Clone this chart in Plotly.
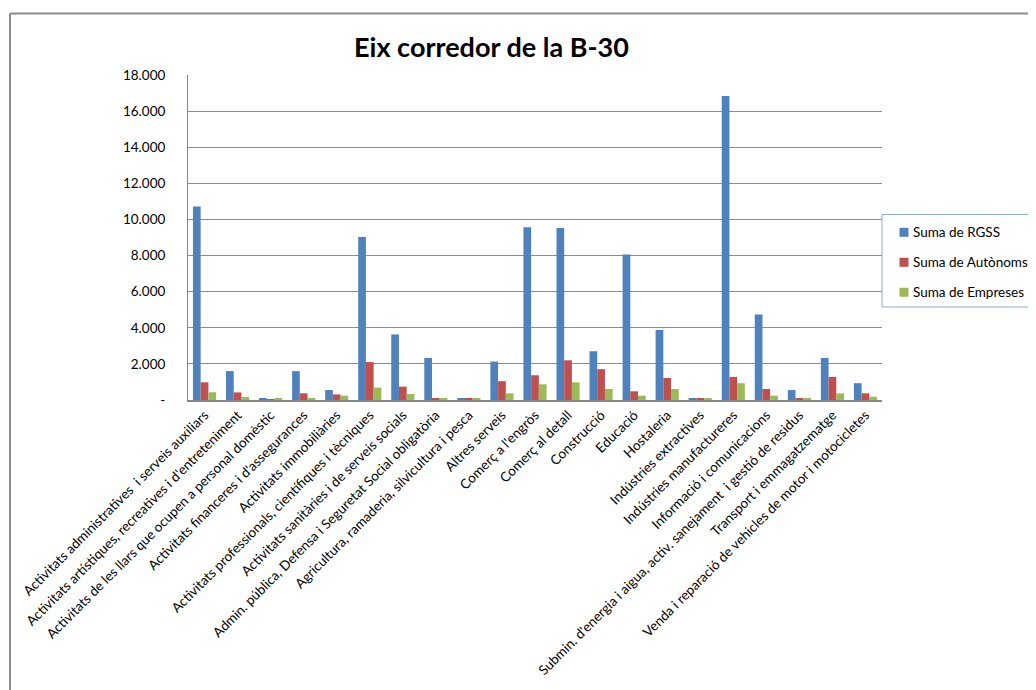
import plotly.graph_objects as go

categories = [
    "Activitats administratives  i serveis auxiliars",
    "Activitats artístiques, recreatives i d'entreteniment",
    "Activitats de les llars que ocupen a personal domèstic",
    "Activitats financeres i d'assegurances",
    "Activitats immobiliàries",
    "Activitats professionals, científiques i tècniques",
    "Activitats sanitàries i de serveis socials",
    "Admin. pública, Defensa i Seguretat Social obligatòria",
    "Agricultura, ramaderia, silvicultura i pesca",
    "Altres serveis",
    "Comerç a l'engròs",
    "Comerç al detall",
    "Construcció",
    "Educació",
    "Hostaleria",
    "Indústries extractives",
    "Indústries manufactureres",
    "Informació i comunicacions",
    "Submin. d'energia i aigua, activ. sanejament  i gestió de residus",
    "Transport i emmagatzematge",
    "Venda i reparació de vehicles de motor i motocicletes",
]

rgss = [10710, 1600, 90, 1600, 550, 9030, 3630, 2330, 90, 2130,
        9570, 9530, 2700, 8060, 3880, 80, 16840, 4740, 550, 2330, 930]
autonoms = [980, 420, 20, 370, 310, 2100, 740, 90, 90, 1040,
            1370, 2200, 1710, 480, 1220, 80, 1280, 610, 90, 1280, 370]
empreses = [430, 170, 60, 100, 240, 690, 330, 90, 90, 370,
            870, 980, 610, 240, 610, 80, 930, 240, 90, 370, 180]

series_names = ["Suma de RGSS", "Suma de Autònoms", "Suma de Empreses"]
colors = ["#4F81BD", "#C0504D", "#9BBB59"]

ytick_vals = [0, 2000, 4000, 6000, 8000, 10000, 12000, 14000, 16000, 18000]
ytick_text = ["-", "2.000", "4.000", "6.000", "8.000", "10.000", "12.000",
              "14.000", "16.000", "18.000"]

FONT = "Lato, Open Sans, sans-serif"

# page offset caused by the default 8px body margin
OFF = 8
W, H = 1036 - OFF, 690 - OFF
L, T = 188 - OFF, 75 - OFF
PR, PB = 882 - OFF, 400 - OFF
R, B = W - PR, H - PB
pw, ph = PR - L, PB - T


def px_x(p):
    """page pixel x -> plot paper coordinate"""
    return (p - OFF - L) / pw


def px_y(p):
    """page pixel y -> plot paper coordinate"""
    return (PB - (p - OFF)) / ph


fig = go.Figure()
for name, vals, col in zip(series_names, [rgss, autonoms, empreses], colors):
    fig.add_trace(go.Bar(
        x=categories, y=vals, name=name,
        marker=dict(color=col, line=dict(width=0)),
        showlegend=False,
    ))

shapes = [
    # outer chart border (top and left visible)
    dict(type="line", xref="paper", yref="paper",
         x0=px_x(10), x1=px_x(1050), y0=px_y(13.5), y1=px_y(13.5),
         line=dict(color="#8C8C8C", width=2)),
    dict(type="line", xref="paper", yref="paper",
         x0=px_x(10), x1=px_x(10), y0=px_y(13.5), y1=px_y(720),
         line=dict(color="#8C8C8C", width=2)),
    # legend box
    dict(type="rect", xref="paper", yref="paper",
         x0=px_x(882), x1=px_x(1045), y0=px_y(307), y1=px_y(214.5),
         line=dict(color="#8EAADB", width=1), fillcolor="white", layer="above"),
]
annotations = []
legend_rows = [232.3, 262.3, 292.3]
for name, col, yc in zip(series_names, colors, legend_rows):
    shapes.append(dict(type="rect", xref="paper", yref="paper",
                       x0=px_x(899.5), x1=px_x(908.5),
                       y0=px_y(yc + 4.5), y1=px_y(yc - 4.5),
                       line=dict(width=0), fillcolor=col, layer="above"))
    annotations.append(dict(text=name, xref="paper", yref="paper",
                            x=px_x(911), y=px_y(yc), xanchor="left",
                            yanchor="middle", showarrow=False,
                            font=dict(family=FONT, size=13.5, color="black")))

fig.update_layout(
    width=W, height=H,
    margin=dict(l=L, r=R, t=T, b=B, autoexpand=False),
    paper_bgcolor="white", plot_bgcolor="white",
    barmode="group", bargap=0.3, bargroupgap=0,
    font=dict(family=FONT, size=13, color="black"),
    showlegend=False,
    title=dict(text="<b>Eix corredor de la B-30</b>",
               xref="container", x=(491.5 - OFF) / W, xanchor="center",
               yref="container", y=1 - (48 - OFF) / H, yanchor="middle",
               font=dict(family=FONT, size=27, color="black")),
    xaxis=dict(
        tickangle=-45, tickfont=dict(family=FONT, size=13.5),
        showline=True, linecolor="#888888", linewidth=2,
        ticks="", showgrid=False,
    ),
    yaxis=dict(
        range=[0, 18000], tickvals=ytick_vals, ticktext=ytick_text,
        showgrid=True, gridcolor="#8C8C8C", gridwidth=1,
        showline=True, linecolor="#888888", linewidth=1,
        ticks="", tickfont=dict(family=FONT, size=13.5),
        ticklabelstandoff=19, zeroline=False,
    ),
    shapes=shapes,
    annotations=annotations,
)

fig.write_html("out.html")
